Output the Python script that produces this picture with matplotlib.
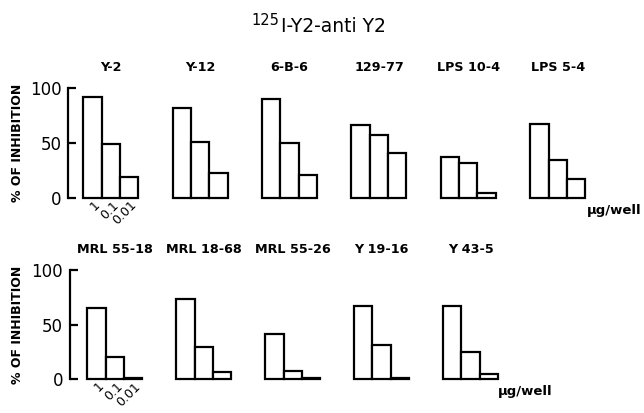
import numpy as np
import matplotlib.pyplot as plt

# valori (% di inibizione a 1, 0.1, 0.01 ug/well)
top_names = ['Y-2', 'Y-12', '6-B-6', '129-77', 'LPS 10-4', 'LPS 5-4']
top_vals = [[92, 49, 19],
            [82, 51, 23],
            [90, 50, 21],
            [66.5, 57, 41],
            [37.5, 32, 4.5],
            [67.5, 34.5, 17]]

bot_names = ['MRL 55-18', 'MRL 18-68', 'MRL 55-26', 'Y 19-16', 'Y 43-5']
bot_vals = [[65.5, 20.5, 0.5],
            [73, 29.5, 6],
            [41, 7.5, 0.5],
            [67, 31, 1],
            [67, 24.5, 4.5]]

doses = ['1', '0.1', '0.01']

W, H = 644, 413


def px2fig(x, y):
    return x / W, 1 - y / H


def row(ax, names, vals, offset, gap, unit_px):
    for i, (name, v) in enumerate(zip(names, vals)):
        x0 = offset + i * gap
        xs = x0 + np.arange(len(v))
        ax.bar(xs, v, width=1, align='edge', facecolor='white',
               edgecolor='black', linewidth=1.6, clip_on=False)
        ax.text(x0 + 1.5, 119, name, ha='center', va='center',
                fontsize=9.2, fontweight='bold')
        if i == 0:
            for j, d in enumerate(doses):
                ax.text(xs[j] + 0.8, -5, d, rotation=45, rotation_mode='anchor',
                        ha='right', va='center', fontsize=9)
    ax.set_xlim(0, (W - unit_px[0]) / unit_px[1])
    ax.set_ylim(0, 100)
    for s in ['top', 'right', 'bottom']:
        ax.spines[s].set_visible(False)
    ax.spines['left'].set_linewidth(1.6)
    ax.set_xticks([])
    ax.set_yticks([0, 50, 100])
    ax.tick_params(axis='y', direction='in', length=6, width=1.6,
                   labelsize=12, pad=5)


fig = plt.figure(figsize=(W / 100, H / 100), dpi=100)

# riga superiore
ax1 = fig.add_axes([68.3 / W, 1 - 197.7 / H, (W - 68.3) / W, 109.4 / H])
row(ax1, top_names, top_vals, 0.82, 4.885, (68.3, 18.3))
ax1.text(28.35, -11.5, 'µg/well', ha='left', va='center', fontsize=9.5, fontweight='bold')

# riga inferiore
ax2 = fig.add_axes([70 / W, 1 - 379 / H, (W - 70) / W, 109 / H])
row(ax2, bot_names, bot_vals, 0.95, 4.86, (70, 18.3))
ax2.text(23.4, -11.8, 'µg/well', ha='left', va='center', fontsize=9.5, fontweight='bold')

for yc in (143, 325):
    fig.text(*px2fig(18, yc), '% OF INHIBITION', rotation=90, ha='center',
             va='center', fontsize=9, fontweight='bold')

# titolo
fig.text(*px2fig(279, 25), '125', ha='right', va='baseline', fontsize=10.5)
fig.text(*px2fig(281, 32), 'I-Y2-anti Y2', ha='left', va='baseline', fontsize=13.5)

fig.savefig('out.png', dpi=100, facecolor='white')
